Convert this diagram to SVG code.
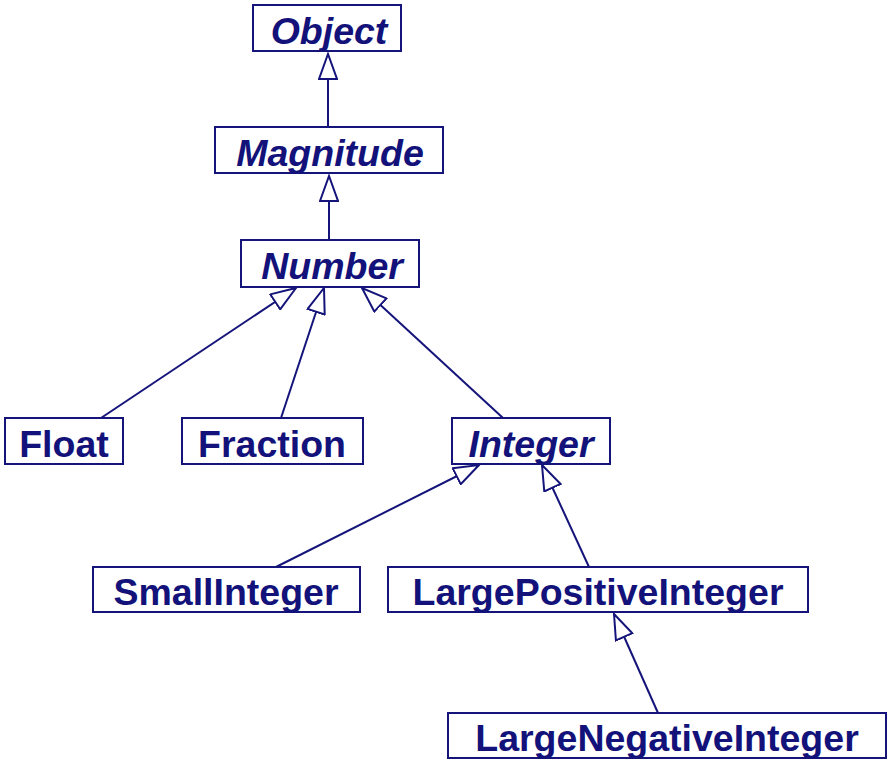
<svg xmlns="http://www.w3.org/2000/svg" width="892" height="763" viewBox="0 0 892 763">
<style>
.box{fill:#fff;stroke:#14147a;stroke-width:2}
.t{font-family:"Liberation Sans",Arial,Helvetica,sans-serif;font-weight:bold;font-size:37.5px;fill:#12127a;text-anchor:middle}
.i{font-style:italic}
.c{stroke:#14147a;stroke-width:2;fill:none;marker-end:url(#tri)}
</style>
<defs>
<marker id="tri" markerUnits="userSpaceOnUse" viewBox="-1 -1 28 20" refX="25" refY="9" markerWidth="28" markerHeight="20" orient="auto">
<path d="M0,0 L25,9 L0,18 Z" fill="#fff" stroke="#14147a" stroke-width="2"/>
</marker>
</defs>
<g id="connectors">
<line class="c" x1="328" y1="127" x2="328" y2="54"/>
<line class="c" x1="329" y1="240" x2="329" y2="176"/>
<line class="c" x1="101" y1="418" x2="296" y2="288"/>
<line class="c" x1="281" y1="418" x2="324" y2="288"/>
<line class="c" x1="503" y1="418" x2="362" y2="288"/>
<line class="c" x1="276" y1="567" x2="479" y2="465"/>
<line class="c" x1="589" y1="567" x2="542" y2="465"/>
<line class="c" x1="658" y1="713" x2="614" y2="614"/>
</g>
<g id="Object"><rect class="box" x="253" y="5" width="148" height="46"/><text class="t i" x="329" y="44">Object</text></g>
<g id="Magnitude"><rect class="box" x="215" y="127" width="228" height="46"/><text class="t i" x="330" y="166">Magnitude</text></g>
<g id="Number"><rect class="box" x="241" y="240" width="178" height="47"/><text class="t i" x="332" y="279">Number</text></g>
<g id="Float"><rect class="box" x="5" y="418" width="118" height="46"/><text class="t" x="64" y="457">Float</text></g>
<g id="Fraction"><rect class="box" x="182" y="418" width="181" height="46"/><text class="t" x="272" y="457">Fraction</text></g>
<g id="Integer"><rect class="box" x="452" y="418" width="158" height="46"/><text class="t i" x="531" y="457">Integer</text></g>
<g id="SmallInteger"><rect class="box" x="93" y="567" width="267" height="45"/><text class="t" x="226" y="605">SmallInteger</text></g>
<g id="LargePositiveInteger"><rect class="box" x="388" y="567" width="420" height="45"/><text class="t" x="598" y="605">LargePositiveInteger</text></g>
<g id="LargeNegativeInteger"><rect class="box" x="448" y="713" width="438" height="45"/><text class="t" x="667" y="751">LargeNegativeInteger</text></g>
</svg>
